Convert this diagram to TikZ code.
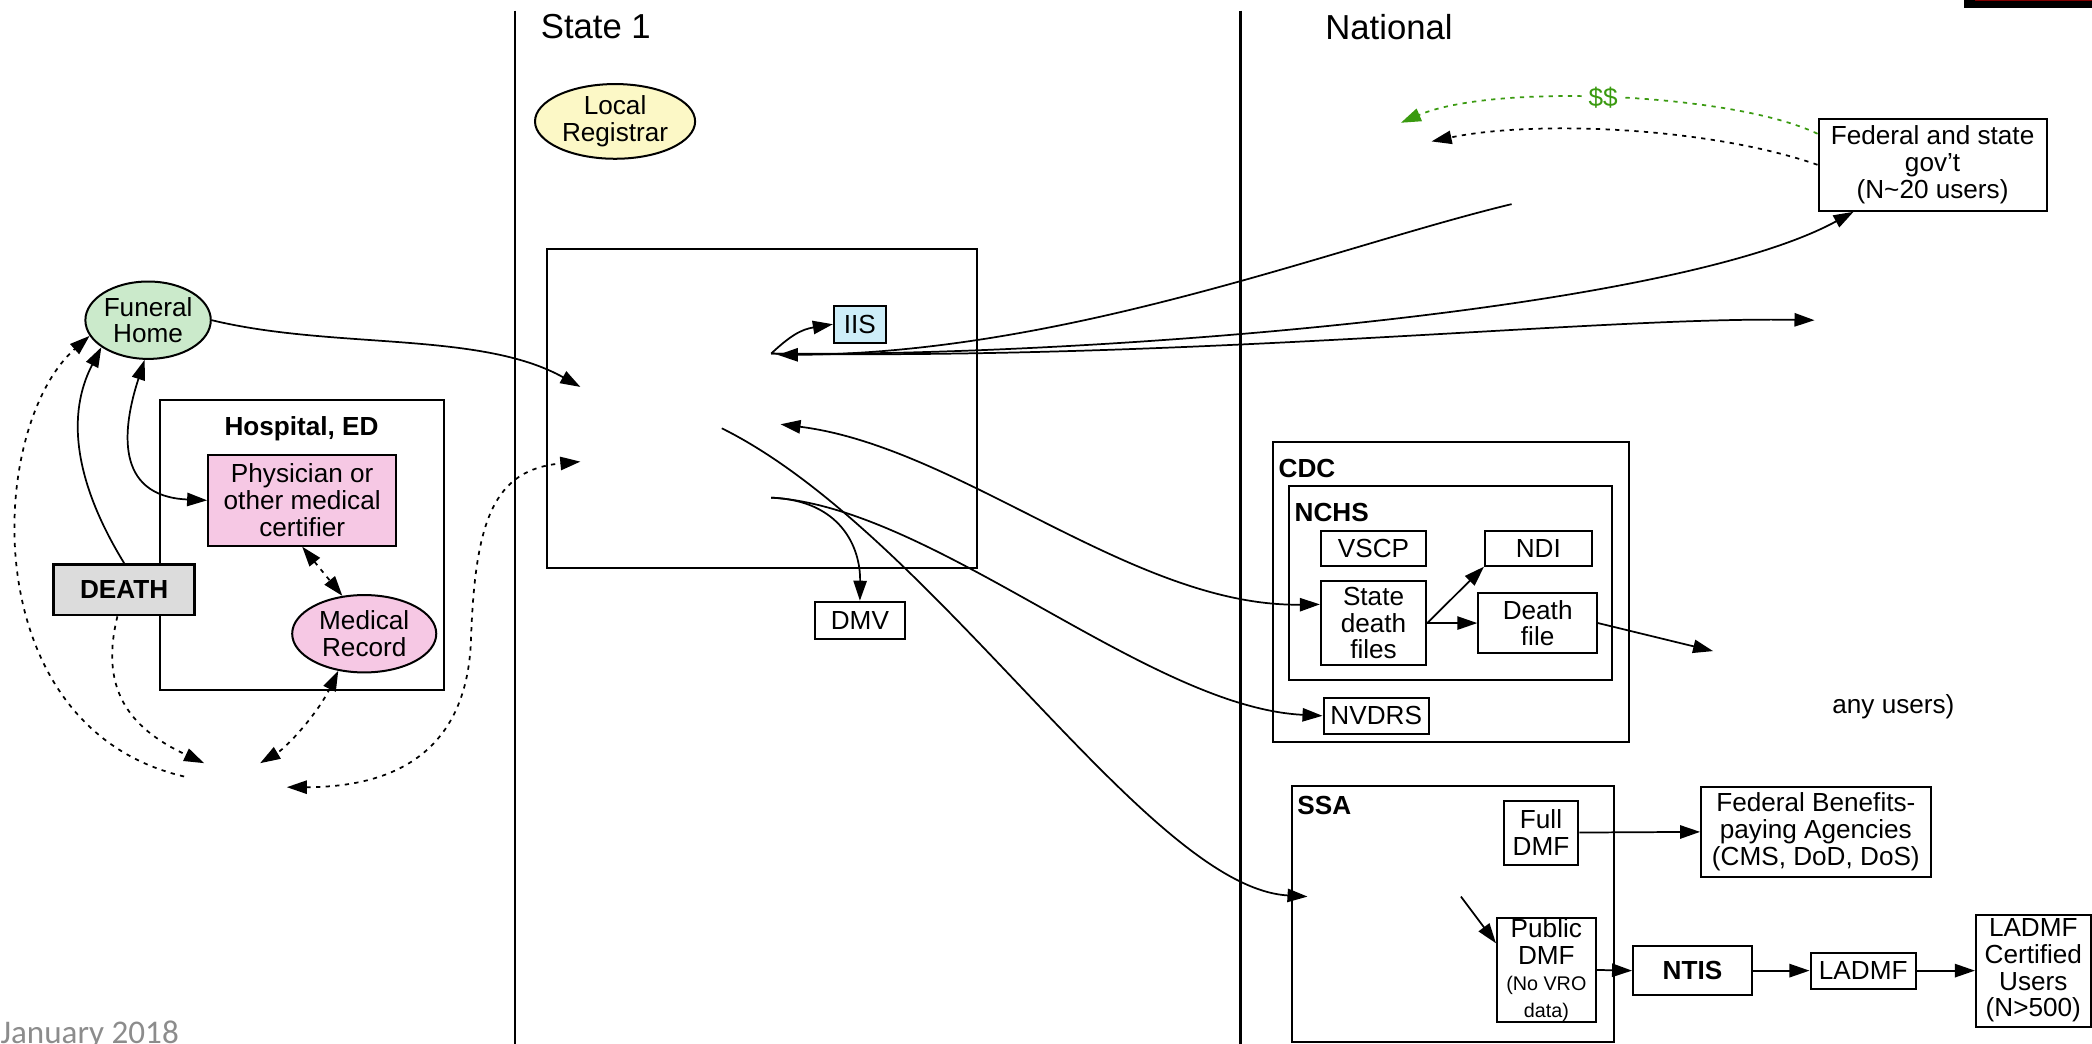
\documentclass[tikz,border=0pt]{standalone}
\usepackage{fontspec}
\setmainfont{Liberation Sans}
\newfontfamily\calfont{Carlito}
\usetikzlibrary{arrows.meta,shapes.geometric}
\definecolor{fhgreen}{HTML}{CBEACB}
\definecolor{lryellow}{HTML}{FCF8C6}
\definecolor{pinkfill}{HTML}{F6C8E4}
\definecolor{iisblue}{HTML}{CDEDF8}
\definecolor{deathgray}{HTML}{DCDCDC}
\definecolor{moneygreen}{HTML}{3A9A10}
\definecolor{dategray}{HTML}{8C8C8C}
\newcommand\nf{\fontsize{9.8}{10}\selectfont}
\newcommand\bnf{\fontsize{9.8}{10}\selectfont\bfseries}
\newcommand\smf{\fontsize{7.4}{8}\selectfont}
\begin{document}
\begin{tikzpicture}[x=0.5pt,y=-0.5pt,
  box/.style={draw, line width=0.75pt, inner sep=0pt, align=center, font=\nf},
  ell/.style={draw, ellipse, line width=0.75pt, inner sep=0pt, align=center, font=\nf},
  conn/.style={line width=0.65pt},
  dotl/.style={line width=0.65pt, dash pattern=on 1.6pt off 2pt},
  >={Triangle[length=7.5pt,width=5pt]},
  lbl/.style={inner sep=0pt, font=\bnf, anchor=west}]
\useasboundingbox (0,0) rectangle (1568,782);

% top right bar
\fill[black] (1472,0) rectangle (1568,6);
\fill[red!50!black] (1480,0) rectangle (1568,1);

% separators
\coordinate (v1t) at (386,8); \coordinate (v1b) at (386,790);
\coordinate (v2t) at (930,8); \coordinate (v2b) at (930,790);
\draw[line width=1pt] (v1t) -- (v1b);
\draw[line width=1pt] (v2t) -- (v2b);

\node[anchor=west, inner sep=0pt, font=\fontsize{13}{15}\selectfont] (st1) at (405,20) {State 1};
\node[anchor=west, inner sep=0pt, font=\fontsize{13}{15}\selectfont] (nat) at (993,20) {National};
\node[anchor=base west, inner sep=0pt, text=dategray, font=\calfont\fontsize{12.4}{14}\selectfont] (date) at (0,782) {January 2018};

% left region
\node[ell, fill=fhgreen, minimum width=47pt, minimum height=29pt] (fh) at (111,240) {Funeral\\Home};
\node[box, minimum width=106.5pt, minimum height=108.5pt] (hosp) at (226.5,408.5) {};
\node[inner sep=0pt, font=\bnf] (hospl) at (226,321) {Hospital, ED};
\node[box, fill=pinkfill, minimum width=70.5pt, minimum height=34pt] (phys) at (226.5,375) {Physician or\\other medical\\certifier};
\node[ell, fill=pinkfill, minimum width=54pt, minimum height=29pt] (mr) at (273,475) {Medical\\Record};
\node[box, fill=deathgray, line width=1pt, minimum width=53pt, minimum height=19pt, font=\bnf] (death) at (93,442) {DEATH};

% state region
\node[ell, fill=lryellow, minimum width=60pt, minimum height=28pt] (lr) at (461,91) {Local\\Registrar};
\node[box, minimum width=161pt, minimum height=119.5pt] (sb) at (571,306.5) {};
\node[box, fill=iisblue, minimum width=19.5pt, minimum height=14pt] (iis) at (644.5,243) {IIS};
\node[box, minimum width=33.5pt, minimum height=14pt] (dmv) at (644.5,465) {DMV};

% national region
\node[box, minimum width=85.5pt, minimum height=34.5pt] (fed) at (1448.5,123.5) {Federal and state\\gov't\\(N\textasciitilde 20 users)};
\node[box, minimum width=133.5pt, minimum height=112.5pt] (cdc) at (1087.5,443.5) {};
\node[lbl] (cdcl) at (958,351) {CDC};
\node[box, minimum width=121pt, minimum height=73pt] (nchs) at (1087,437) {};
\node[lbl] (nchsl) at (970,384) {NCHS};
\node[box, minimum width=39.5pt, minimum height=13pt] (vscp) at (1029.5,411) {VSCP};
\node[box, minimum width=40pt, minimum height=13pt] (ndi) at (1153,411) {NDI};
\node[box, minimum width=39.5pt, minimum height=31.5pt] (sdf) at (1029.5,467) {State\\death\\files};
\node[box, minimum width=44.5pt, minimum height=22.5pt] (dfile) at (1152.5,467) {Death\\file};
\node[box, minimum width=39.5pt, minimum height=13.5pt] (nvdrs) at (1031.5,536.5) {NVDRS};
\node[anchor=west, inner sep=0pt, font=\nf] (anyu) at (1373,530) {any users)};

\node[box, minimum width=121pt, minimum height=96pt] (ssa) at (1089,685) {};
\node[lbl] (ssal) at (972,604) {SSA};
\node[box, minimum width=28pt, minimum height=24pt] (fdmf) at (1155,624) {Full\\DMF};
\node[box, minimum width=37pt, minimum height=39pt] (pdmf) at (1159,727) {Public\\DMF\\{\smf (No VRO}\\{\smf data)}};
\node[box, minimum width=44.5pt, minimum height=18.5pt, font=\bnf] (ntis) at (1268.5,727.5) {NTIS};
\node[box, minimum width=39.5pt, minimum height=13.5pt] (ladmf) at (1396.5,727.5) {LADMF};
\node[box, minimum width=43pt, minimum height=42pt] (cert) at (1524,727.5) {LADMF\\Certified\\Users\\(N>500)};
\node[box, minimum width=86pt, minimum height=34pt] (fba) at (1361,623.5) {Federal Benefits-\\paying Agencies\\(CMS, DoD, DoS)};

% free coordinates
\coordinate (sin1) at (435,290);
\coordinate (sin2) at (435,346);
\coordinate (lb1) at (138,582);
\coordinate (lb2) at (153,572);
\coordinate (lb3) at (195,572);
\coordinate (lb4) at (215,590);
\coordinate (hub) at (578,265);
\coordinate (hubA) at (583,266);
\coordinate (hub2) at (585,318);
\coordinate (hub3) at (578,373);
\coordinate (hub4) at (541,321);
\coordinate (nat1) at (1133,153);
\coordinate (nat2) at (1360,240);
\coordinate (nat3) at (1050,92);
\coordinate (nat4) at (1073,106);
\coordinate (nat5) at (1284,488);
\coordinate (ssain) at (980,672);
\coordinate (ssamid) at (1095,672);

% left connectors
\draw[conn,->] (fh.east) .. controls (250,262) and (360,248) .. (sin1);
\draw[conn,->] (death.north) .. controls (55,360) and (50,310) .. (fh.210);
\draw[conn,<->] (fh.265) .. controls (92,320) and (85,372) .. (phys.west);
\draw[dotl,->] (lb1) .. controls (-20,545) and (-10,320) .. (fh.195);
\draw[dotl,->] ([xshift=-2.5pt]death.south) .. controls (75,515) and (95,545) .. (lb2);
\draw[dotl,<->] (mr.235) .. controls (238,535) and (215,560) .. (lb3);
\draw[dotl,<->] (phys.south) -- (mr.120);
\draw[dotl,<->] (lb4) .. controls (300,590) and (350,560) .. (353,480) .. controls (356,390) and (370,352) .. (sin2);

% state connectors
\draw[conn,->] (hub) .. controls (592,252) and (600,247) .. (iis.west);
\draw[conn,->] (nat1) .. controls (1000,185) and (800,265) .. (hubA);
\draw[conn,->] (hub) .. controls (800,268) and (1250,235) .. ([xshift=13.5pt]fed.south west);
\draw[conn,->] (hub) .. controls (900,270) and (1200,237) .. (nat2);
\draw[conn,<->] (hub2) .. controls (720,335) and (850,455) .. ([yshift=7pt]sdf.west);
\draw[conn,->] (hub3) .. controls (630,375) and (645,410) .. (dmv.north);
\draw[conn,->] (hub3) .. controls (700,380) and (860,530) .. (nvdrs.west);
\draw[conn,->] (hub4) .. controls (700,400) and (860,665) .. (ssain);

% national connectors
\draw[dotl,moneygreen,->] ([yshift=-6pt]fed.north west) .. controls (1300,70) and (1120,62) .. node[pos=0.52, fill=white, inner sep=1.5pt, text=moneygreen, font=\nf] (money) {\$\$} (nat3);
\draw[dotl,->] (fed.west) .. controls (1280,95) and (1150,90) .. (nat4);
\draw[conn,->] (dfile.east) -- (nat5);
\draw[conn,->] (sdf.east) -- (ndi.south west);
\draw[conn,->] (sdf.east) -- (dfile.west);
\draw[conn,->] (fdmf.east) -- (fba.west);
\draw[conn,->] (ssamid) -- ([yshift=10pt]pdmf.west);
\draw[conn,->] (pdmf.east) -- (ntis.west);
\draw[conn,->] (ntis.east) -- (ladmf.west);
\draw[conn,->] (ladmf.east) -- (cert.west);
\end{tikzpicture}
\end{document}
